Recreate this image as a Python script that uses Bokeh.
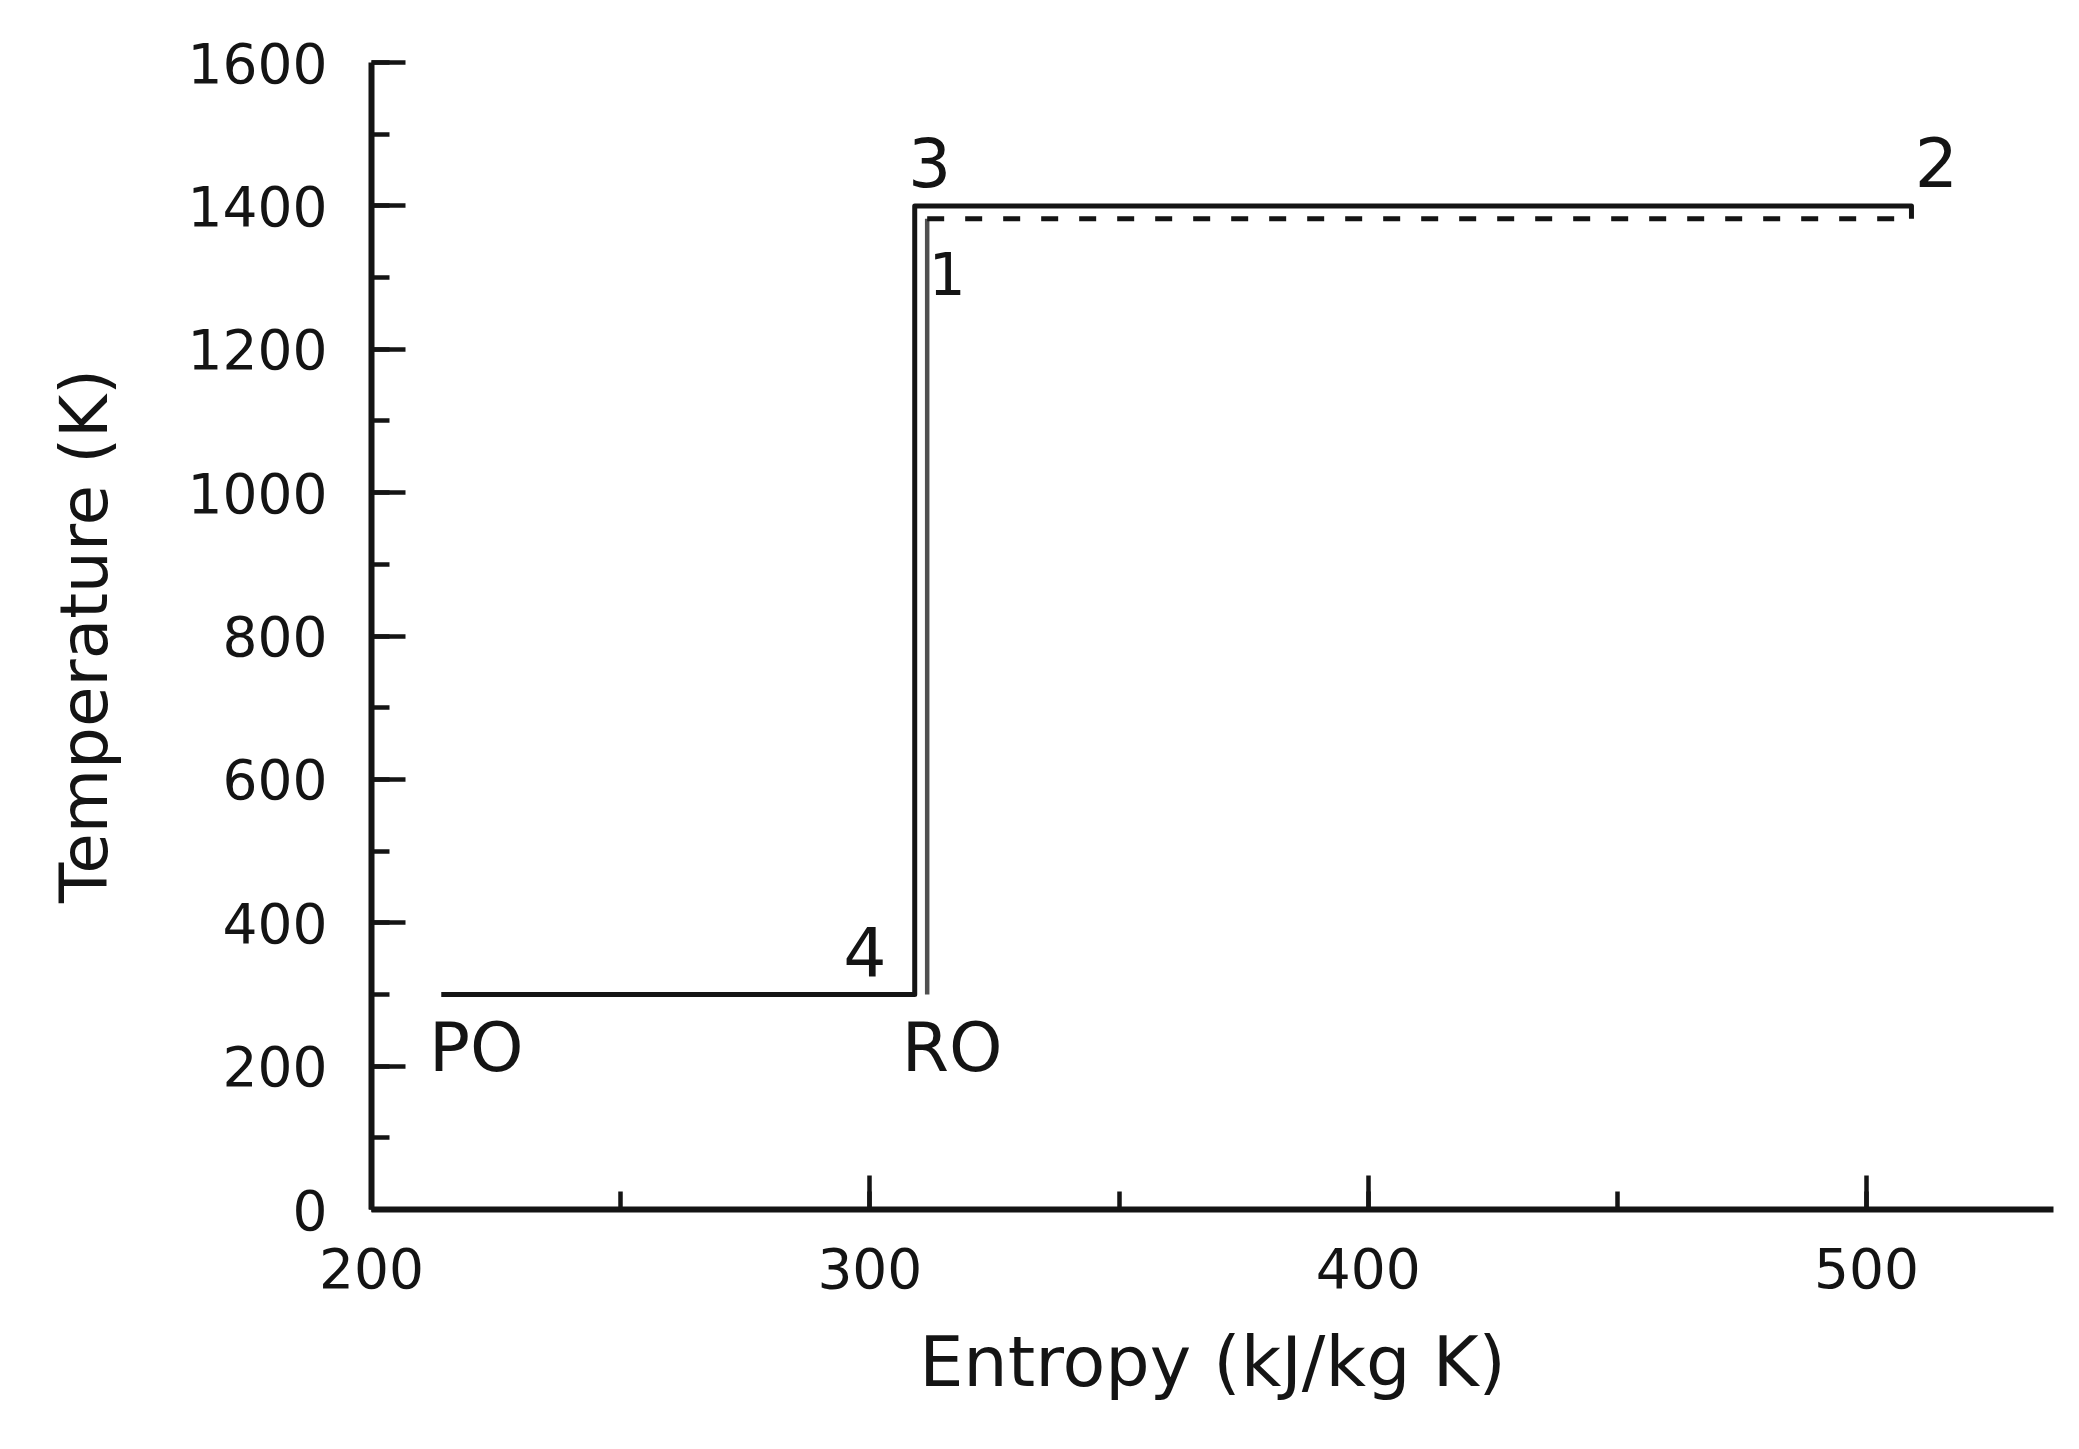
from bokeh.plotting import figure
from bokeh.models import Range1d, SingleIntervalTicker
from bokeh.core.properties import value
from bokeh.embed import file_html
from bokeh.resources import INLINE

# ---- data ----
# outer (solid) cycle path: PO -> 4 -> 3 -> 2
outer_s = [214, 309, 309, 509, 509]
outer_t = [300, 300, 1400, 1400, 1382]
# inner path: RO -> 1 (solid vertical) then 1 -> 2 (dashed)
inner_vert_s = [311.5, 311.5]
inner_vert_t = [300, 1382]
inner_dash_s = [311.5, 509]
inner_dash_t = [1382, 1382]

point_labels = ["PO", "RO", "4", "3", "1", "2"]
label_s = [221, 316.5, 299, 312, 315.5, 514]
label_t = [226, 226, 359, 1461, 1305, 1461]
label_sizes = ["68px", "68px", "68px", "68px", "58px", "68px"]

x_ticks = [200, 300, 400, 500]
y_ticks = [0, 200, 400, 600, 800, 1000, 1200, 1400, 1600]

FONT = "DejaVu Sans"
INK = "#141414"

p = figure(width=2063, height=1433, output_backend="svg", toolbar_location=None,
           x_range=Range1d(200, 537.5), y_range=Range1d(0, 1600),
           min_border_left=371, min_border_right=10, min_border_top=62, min_border_bottom=224)
p.outline_line_color = None
p.xgrid.visible = False
p.ygrid.visible = False
p.background_fill_color = "white"

p.line(outer_s, outer_t, line_color=INK, line_width=5, line_join="round")
p.line(inner_vert_s, inner_vert_t, line_color="#505050", line_width=4.5)
p.line(inner_dash_s, inner_dash_t, line_color=INK, line_width=5, line_dash="17 21")

for lab, s, t, fs in zip(point_labels, label_s, label_t, label_sizes):
    p.text(x=[s], y=[t], text=[lab], text_font=value(FONT), text_font_size=fs,
           text_align="center", text_baseline="middle", text_color=INK)

# axes
xa = p.xaxis[0]
xa.ticker = SingleIntervalTicker(interval=100, num_minor_ticks=2)
xa.major_label_overrides = {v: str(v) for v in x_ticks}
xa.axis_label = "Entropy (kJ/kg K)"
ya = p.yaxis[0]
ya.ticker = SingleIntervalTicker(interval=200, num_minor_ticks=2)
ya.major_label_overrides = {v: str(v) for v in y_ticks}
ya.axis_label = "Temperature (K)"

for ax in (xa, ya):
    ax.axis_line_color = INK
    ax.axis_line_width = 6
    ax.major_tick_line_color = INK
    ax.minor_tick_line_color = INK
    ax.major_tick_line_width = 4.5
    ax.minor_tick_line_width = 4.5
    ax.major_tick_out = 0
    ax.major_tick_in = 34
    ax.minor_tick_out = 0
    ax.minor_tick_in = 18
    ax.major_label_text_font = FONT
    ax.major_label_text_font_size = "55px"
    ax.major_label_text_color = INK
    ax.axis_label_text_font = FONT
    ax.axis_label_text_font_style = "normal"
    ax.axis_label_text_color = INK

xa.major_label_standoff = 38
xa.axis_label_standoff = 30
xa.axis_label_text_font_size = "70px"
ya.major_label_standoff = 44
ya.axis_label_standoff = 62
ya.axis_label_text_font_size = "66px"

open("out.html", "w").write(file_html(p, INLINE))
